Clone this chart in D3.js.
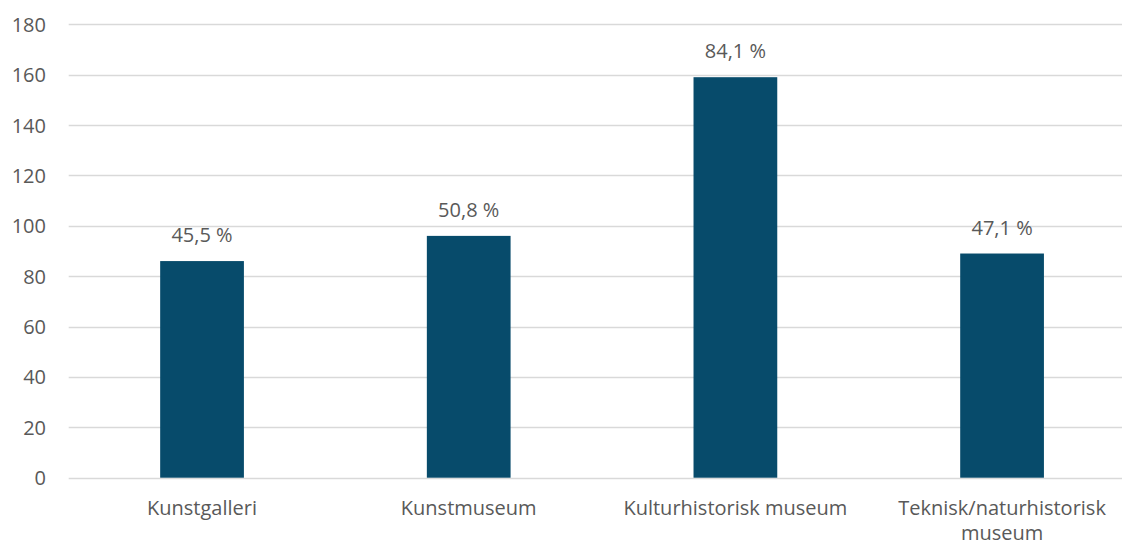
<!DOCTYPE html>
<html>
<head>
<meta charset="utf-8">
<script src="https://cdn.jsdelivr.net/npm/d3@7"></script>
<style>
  html, body { margin: 0; padding: 0; background: #fff; }
  svg { display: block; }
  text { font-family: "Open Sans", "Noto Sans", sans-serif; fill: #595959; }
</style>
</head>
<body>
<svg id="chart" width="1122" height="546"></svg>
<script>
const categories = ["Kunstgalleri", "Kunstmuseum", "Kulturhistorisk museum", "Teknisk/naturhistorisk museum"];
const categoryLines = [["Kunstgalleri"], ["Kunstmuseum"], ["Kulturhistorisk museum"], ["Teknisk/naturhistorisk", "museum"]];
const values = [86, 96, 159, 89];
const percentLabels = ["45,5 %", "50,8 %", "84,1 %", "47,1 %"];
const yTicks = [0, 20, 40, 60, 80, 100, 120, 140, 160, 180];

const svg = d3.select("#chart");
const plotLeft = 68.7, plotRight = 1122;
const y = d3.scaleLinear().domain([0, 180]).range([477.7, 24.3]);
const x = d3.scaleBand().domain(categories).range([68.7, 1135.4]).paddingInner(0.686).paddingOuter(0.343);
const FS = 20;

// gridlines
svg.append("g").selectAll("line").data(yTicks).join("line")
  .attr("x1", plotLeft).attr("x2", plotRight)
  .attr("y1", d => Math.round(y(d)) + 0.5).attr("y2", d => Math.round(y(d)) + 0.5)
  .attr("stroke", "#d9d9d9").attr("stroke-width", 1.3);

// y axis labels
const yAxis = d3.axisLeft(y).tickValues(yTicks).tickSize(0).tickPadding(0);
const ya = svg.append("g").attr("transform", "translate(46,0)").call(yAxis);
ya.select(".domain").remove();
ya.selectAll("text").attr("font-size", FS).attr("fill", "#595959")
  .style("font-family", '"Open Sans", "Noto Sans", sans-serif')
  .attr("dy", "0.35em");

// bars
svg.append("g").selectAll("rect").data(values).join("rect")
  .attr("x", (d, i) => x(categories[i]))
  .attr("width", x.bandwidth())
  .attr("y", d => y(d))
  .attr("height", d => y(0) - y(d))
  .attr("fill", "#074b6b");

// data labels
svg.append("g").selectAll("text").data(values).join("text")
  .attr("x", (d, i) => x(categories[i]) + x.bandwidth() / 2)
  .attr("y", d => y(d) - 19)
  .attr("text-anchor", "middle")
  .attr("font-size", FS)
  .text((d, i) => percentLabels[i]);

// category labels
const cl = svg.append("g").selectAll("text").data(categoryLines).join("text")
  .attr("x", (d, i) => x(categories[i]) + x.bandwidth() / 2)
  .attr("y", 515)
  .attr("text-anchor", "middle")
  .attr("font-size", FS);
cl.selectAll("tspan").data((d, i) => d.map(t => ({t, cx: x(categories[i]) + x.bandwidth() / 2}))).join("tspan")
  .attr("x", d => d.cx)
  .attr("dy", (d, j) => j === 0 ? 0 : 25)
  .text(d => d.t);
</script>
</body>
</html>
